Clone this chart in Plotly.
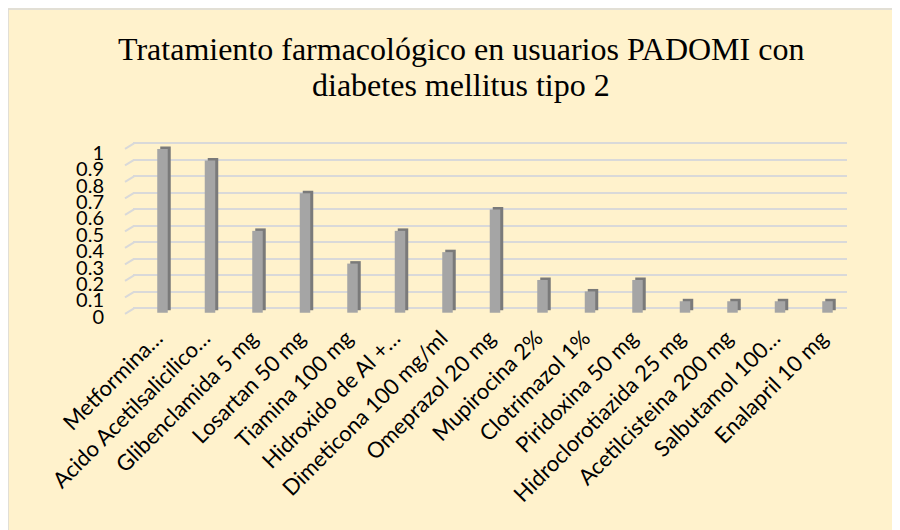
import plotly.graph_objects as go

# ---------------- data ----------------
medicamentos = [
    "Metformina…",
    "Acido Acetilsalicilico…",
    "Glibenclamida 5 mg",
    "Losartan 50 mg",
    "Tiamina 100 mg",
    "Hidroxido de Al +…",
    "Dimeticona 100 mg/ml",
    "Omeprazol 20 mg",
    "Mupirocina 2%",
    "Clotrimazol 1%",
    "Piridoxina 50 mg",
    "Hidroclorotiazida 25 mg",
    "Acetilcisteina 200 mg",
    "Salbutamol 100…",
    "Enalapril 10 mg",
]
proporcion = [1.0, 0.93, 0.5, 0.73, 0.3, 0.5, 0.37, 0.63, 0.2, 0.13, 0.2, 0.07, 0.07, 0.07, 0.07]
y_ticks = [0, 0.1, 0.2, 0.3, 0.4, 0.5, 0.6, 0.7, 0.8, 0.9, 1.0]
y_ticktext = ["0", "0.1", "0.2", "0.3", "0.4", "0.5", "0.6", "0.7", "0.8", "0.9", "1"]
titulo_l1 = "Tratamiento farmacológico en usuarios PADOMI con"
titulo_l2 = "diabetes mellitus tipo 2"

# ---------------- layout constants ----------------
W, H = 900, 530
OFF = 8                      # page body margin (screen px -> figure px)
PL, PR, PT, PB = 133, 847, 140, 320   # plot area in screen px
L, R, T, B = PL - OFF, W - (PR - OFF), PT - OFF, H - (PB - OFF)
PW, PH = PR - PL, PB - PT
BG = "#FFF2CC"
GRID = "#D9D9D9"
FRONT = "#A5A5A5"
SIDE = "#7A7A7A"

def fx(sx):   # screen x -> paper fraction
    return (sx - PL) / PW

def fy(sy):   # screen y -> paper fraction
    return (PB - sy) / PH

step = 47.5
first_c = 162.5
bar_w = 10.5 / step
depth_x = 3 / step
depth_y = 0.015

x_idx = list(range(len(medicamentos)))

fig = go.Figure()

fig.add_trace(go.Bar(
    x=x_idx, y=proporcion, base=depth_y,
    width=bar_w, offset=-bar_w / 2 + depth_x,
    marker=dict(color=SIDE, line=dict(width=0)),
    hoverinfo="skip", showlegend=False,
))
fig.add_trace(go.Bar(
    x=x_idx, y=proporcion,
    width=bar_w, offset=-bar_w / 2,
    marker=dict(color=FRONT, line=dict(width=0)),
    showlegend=False,
))
fig.add_trace(go.Scatter(x=[], y=[], yaxis="y2", showlegend=False, hoverinfo="skip"))

shapes = []
for v in y_ticks:
    shapes.append(dict(type="line", xref="paper", yref="y2",
                       x0=fx(125), x1=fx(134), y0=v - 5.6 / 165, y1=v,
                       line=dict(color=GRID, width=2), layer="below"))
# chart border (top and left edges)
shapes.append(dict(type="line", xref="paper", yref="paper",
                   x0=fx(7), x1=fx(W + 20), y0=fy(9), y1=fy(9),
                   line=dict(color=GRID, width=1.5), layer="below"))
shapes.append(dict(type="line", xref="paper", yref="paper",
                   x0=fx(8), x1=fx(8), y0=fy(9), y1=fy(H + 20),
                   line=dict(color=GRID, width=1.5), layer="below"))

title_font = dict(family="Liberation Serif", size=32, color="#000000")
annotations = [
    dict(text=titulo_l1, xref="paper", yref="paper", x=fx(461), y=fy(28.5),
         xanchor="center", yanchor="top", showarrow=False, font=title_font),
    dict(text=titulo_l2, xref="paper", yref="paper", x=fx(461), y=fy(64.5),
         xanchor="center", yanchor="top", showarrow=False, font=title_font),
]

fig.update_layout(
    width=W, height=H,
    margin=dict(l=L, r=R, t=T, b=B, autoexpand=False),
    paper_bgcolor=BG, plot_bgcolor="rgba(0,0,0,0)",
    barmode="overlay",
    xaxis=dict(range=[-(first_c - PL) / step, -(first_c - PL) / step + PW / step],
               tickmode="array", tickvals=x_idx, ticktext=medicamentos,
               tickangle=-45, showgrid=False, zeroline=False, showline=False,
               ticks="", automargin=False, ticklabelshift=-6,
               tickfont=dict(family="Lato", size=22, color="#000000")),
    yaxis=dict(range=[-(PB - 312.7) / 163.7, 1 + (149 - PT) / 163.7],
               tickmode="array", tickvals=y_ticks, ticktext=y_ticktext,
               showgrid=False, zeroline=False, showline=False, ticks="",
               ticklabelstandoff=28, ticklabelshift=4, automargin=False,
               tickfont=dict(family="Lato", size=20, color="#000000")),
    yaxis2=dict(range=[-(PB - 308.3) / 165, 1 + (143.3 - PT) / 165],
                overlaying="y", side="left",
                tickmode="array", tickvals=y_ticks,
                showgrid=True, gridcolor=GRID, gridwidth=2,
                showticklabels=False, zeroline=False, showline=False, ticks=""),
    shapes=shapes,
    annotations=annotations,
)

fig.write_html("out.html")
